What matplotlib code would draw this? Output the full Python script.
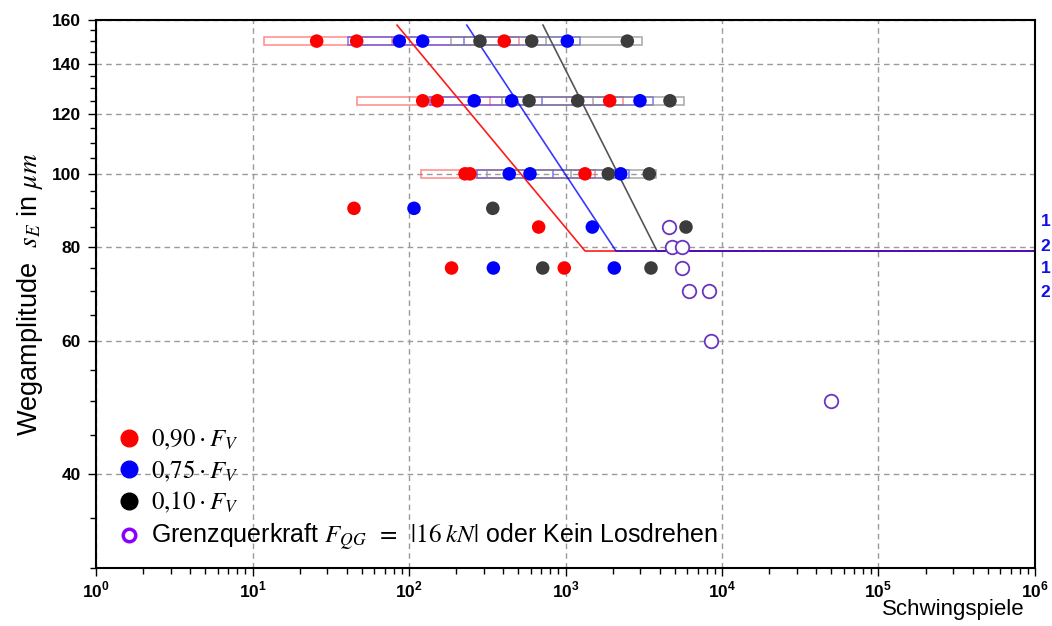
import numpy as np
import matplotlib
matplotlib.use("Agg")
import matplotlib.pyplot as plt
from matplotlib.patches import Rectangle
from matplotlib.lines import Line2D
from matplotlib.ticker import FixedLocator, NullFormatter
from matplotlib.transforms import blended_transform_factory

plt.rcParams['font.family'] = ['Liberation Sans', 'DejaVu Sans']
plt.rcParams['mathtext.fontset'] = 'custom'
plt.rcParams['mathtext.rm'] = 'STIXGeneral'
plt.rcParams['mathtext.it'] = 'STIXGeneral:italic'
plt.rcParams['mathtext.bf'] = 'Liberation Sans:bold'

# --- Versuchspunkte (Schwingspiele, Wegamplitude in µm) ---
rot_n = [25.7, 46.3, 406, 122.3, 151.6, 1916, 228, 245, 1332, 44.5, 674, 187, 982]
rot_s = [150, 150, 150, 125, 125, 125, 100, 100, 100, 90, 85, 75, 75]
blau_n = [86.7, 122.3, 1027, 261, 453, 2992, 437, 593, 2253, 107.6, 1484, 346, 2050]
blau_s = [150, 150, 150, 125, 125, 125, 100, 100, 100, 90, 85, 75, 75]
schwarz_n = [284, 608, 2483, 585, 1197, 4652, 1877, 3431, 343, 5888, 715, 3518]
schwarz_s = [150, 150, 150, 125, 125, 125, 100, 100, 90, 85, 75, 75]
offen_n = [4585, 4770, 5527, 5590, 6153, 8297, 8466, 49500]
offen_s = [85, 80, 80, 75, 70, 70, 60, 50]

# Streubaender je Laststufe
band_s = [150, 125, 100]
rot_band_lo = [11.9, 46.5, 118.8]
rot_band_hi = [505, 2341, 1544]
blau_band_lo = [40.6, 136.2, 272]
blau_band_hi = [1238, 3624, 2546]
grau_band_lo = [185.5, 393, 315]
grau_band_hi = [3069, 5718, 3786]

# Woehlerlinien: Startpunkt oben, Knickpunkt, Dauerfestigkeit
s_oben = 157.5
s_dauer = 79.0
rot_n_oben, rot_n_knick = 83.8, 1333
blau_n_oben, blau_n_knick = 234, 2102
schwarz_n_oben, schwarz_n_knick = 718, 3846
n_ende = 1e6

y_ticks = [40, 60, 80, 100, 120, 140, 160]
rechts_labels = ['1', '2', '1', '2']
rechts_s = [86.4, 80.2, 74.8, 69.7]

fig = plt.figure(figsize=(10.52, 6.26), dpi=100)
ax = fig.add_axes([0.0913, 0.0927, 0.8925, 0.8754])
ax.set_xscale('log')
ax.set_yscale('log')
ax.set_xlim(1, 1e6)
ax.set_ylim(30, 160)

ax.grid(True, which='major', color='#9a9a9a', linestyle=(0, (4, 3)), linewidth=1)
ax.set_axisbelow(True)

# Streubaender als Rechtecke mit Mittelstrich
f = 10 ** (4 / 754)
for lo_l, hi_l, col in [(rot_band_lo, rot_band_hi, '#ff6060'),
                        (blau_band_lo, blau_band_hi, '#4a4af0'),
                        (grau_band_lo, grau_band_hi, '#8a8a8a')]:
    for s, lo, hi in zip(band_s, lo_l, hi_l):
        ax.add_patch(Rectangle((lo, s / f), hi - lo, s * f - s / f, fill=False,
                               edgecolor=col, linewidth=1.1, alpha=0.75, zorder=2))
        mid = np.sqrt(lo * hi)
        ax.plot([mid, mid], [s / f, s * f], color=col, lw=1.1, alpha=0.75, zorder=2)

# Woehlerlinien
for n_o, n_k, col, a in [(schwarz_n_oben, schwarz_n_knick, '#555555', 1.0),
                         (rot_n_oben, rot_n_knick, '#ff1a1a', 1.0),
                         (blau_n_oben, blau_n_knick, '#0000ff', 0.78)]:
    ax.plot([n_o, n_k, n_ende], [s_oben, s_dauer, s_dauer], color=col,
            lw=1.2, alpha=a, zorder=2.5)

ax.scatter(rot_n, rot_s, s=95, color='#ff0000', edgecolors='none', zorder=3)
ax.scatter(blau_n, blau_s, s=95, color='#0000ff', edgecolors='none', zorder=3)
ax.scatter(schwarz_n, schwarz_s, s=95, color='#3c3c3c', edgecolors='none', zorder=3)
ax.scatter(offen_n, offen_s, s=95, facecolors='white', edgecolors='#6a35c0',
           linewidths=1.3, zorder=3)

# Achsen
ax.xaxis.set_major_locator(FixedLocator([10.0 ** k for k in range(7)]))
ax.xaxis.set_major_formatter(plt.FuncFormatter(
    lambda v, p: r'$\mathbf{10}^{\mathbf{%d}}$' % round(np.log10(v))))
ax.xaxis.set_minor_locator(FixedLocator([m * 10.0 ** k for k in range(6) for m in range(2, 10)]))
ax.xaxis.set_minor_formatter(NullFormatter())
ax.yaxis.set_major_locator(FixedLocator(y_ticks))
ax.yaxis.set_major_formatter(plt.FuncFormatter(lambda v, p: '%d' % v))
ax.yaxis.set_minor_locator(FixedLocator(list(range(30, 161, 5))))
ax.yaxis.set_minor_formatter(NullFormatter())
ax.tick_params(which='major', direction='out', length=6, width=1)
ax.tick_params(which='minor', direction='out', length=4, width=1)
ax.tick_params(axis='x', which='major', labelsize=12.5, pad=3)
ax.tick_params(axis='y', which='major', labelsize=12.5, pad=5)
for lbl in ax.get_yticklabels():
    lbl.set_fontweight('bold')
for sp in ax.spines.values():
    sp.set_linewidth(1.5)

ax.set_xlabel('Schwingspiele', loc='right', fontsize=16)
ax.xaxis.set_label_coords(0.9894, -0.056)
ax.set_ylabel(r'Wegamplitude  $s_E$ in $\mu m$', fontsize=19.5, labelpad=5)

trans = blended_transform_factory(ax.transAxes, ax.transData)
for t, s in zip(rechts_labels, rechts_s):
    ax.text(1.006, s, t, transform=trans, color='#1010e6', fontsize=12.5,
            fontweight='bold', va='center', ha='left')

handles = [
    Line2D([], [], ls='', marker='o', markersize=12, color='#ff0000'),
    Line2D([], [], ls='', marker='o', markersize=12, color='#0000ff'),
    Line2D([], [], ls='', marker='o', markersize=12, color='#000000'),
    Line2D([], [], ls='', marker='o', markersize=9, markerfacecolor='white',
           markeredgecolor='#8a00ff', markeredgewidth=2.5),
]
labels = [r'$0{,}90 \cdot F_V$', r'$0{,}75 \cdot F_V$', r'$0{,}10 \cdot F_V$',
          r'Grenzquerkraft $F_{QG}\;\;=\;\;|16\;kN|$ oder Kein Losdrehen']
ax.legend(handles, labels, loc='upper left', bbox_to_anchor=(0.012, 0.275),
          frameon=False, fontsize=18, handlelength=0.9, handletextpad=0.45,
          labelspacing=0.26, borderaxespad=0)

fig.savefig('out.png', dpi=100)
